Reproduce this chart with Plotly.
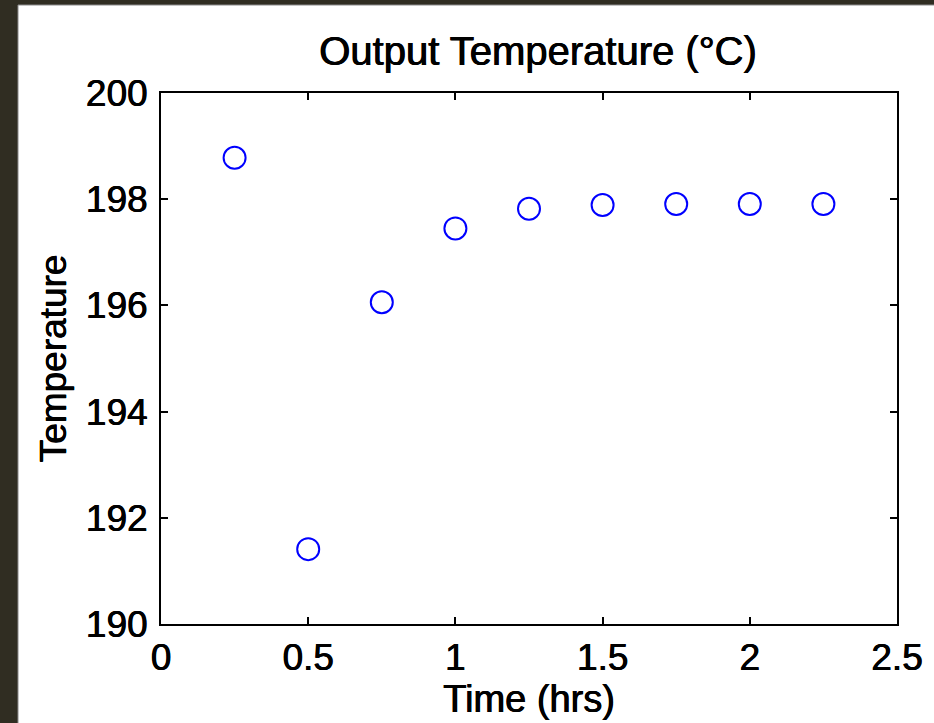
import plotly.graph_objects as go

time_hrs = [0.25, 0.5, 0.75, 1.0, 1.25, 1.5, 1.75, 2.0, 2.25]
temperature = [198.78, 191.41, 196.06, 197.45, 197.82, 197.89, 197.91, 197.91, 197.91]

x_ticks = [0, 0.5, 1, 1.5, 2, 2.5]
x_ticklabels = ["0", "0.5", "1", "1.5", "2", "2.5"]
y_ticks = [190, 192, 194, 196, 198, 200]
y_ticklabels = ["190", "192", "194", "196", "198", "200"]

W, H = 934, 723
L, R, T, B = 161, 37, 93, 99
pw, ph = W - L - R, H - T - B

fig = go.Figure()
fig.add_trace(go.Scatter(
    x=time_hrs, y=temperature, mode="markers",
    marker=dict(symbol="circle-open", size=22, color="#0000ff",
                line=dict(width=2, color="#0000ff")),
    showlegend=False, hoverinfo="skip",
))

font = "Liberation Sans, Arial, sans-serif"
shadow = "0.5px 0px 0px black, -0.3px 0px 0px black"
# white figure panel over dark frame
fig.add_shape(type="rect", xref="paper", yref="paper",
              x0=(18 - L) / pw, x1=(W + 10 - L) / pw,
              y0=(T + ph - H - 10) / ph, y1=(T + ph - 5) / ph,
              fillcolor="white", line=dict(color="#8a8a8a", width=1), layer="below")

fig.update_layout(
    width=W, height=H,
    margin=dict(l=L, r=R, t=T, b=B),
    paper_bgcolor="#302d22", plot_bgcolor="white",
    title=dict(text="Output Temperature (°C)", x=538 / W,
               xanchor="center", y=1 - 51 / H, yanchor="middle",
               font=dict(family=font, size=40, color="black", shadow=shadow)),
    font=dict(family=font, color="black"),
)
fig.update_xaxes(
    range=[0, 2.5], tickvals=x_ticks, ticktext=x_ticklabels,
    showline=True, linewidth=2, linecolor="black", mirror="ticks",
    ticks="inside", ticklen=7, tickwidth=1.5, tickcolor="black",
    showgrid=False, zeroline=False,
    tickfont=dict(family=font, size=37, color="black", shadow=shadow),
    title=dict(text="Time (hrs)", font=dict(family=font, size=38, color="black", shadow=shadow), standoff=0),
)
fig.update_yaxes(
    range=[190, 200], tickvals=y_ticks, ticktext=y_ticklabels,
    showline=True, linewidth=2, linecolor="black", mirror="ticks",
    ticks="inside", ticklen=7, tickwidth=1.5, tickcolor="black",
    showgrid=False, zeroline=False,
    tickfont=dict(family=font, size=37, color="black", shadow=shadow),
    ticklabelstandoff=4,
    title=dict(text="Temperature", font=dict(family=font, size=37, color="black", shadow=shadow), standoff=8),
)
fig.write_html("out.html", config={"displayModeBar": False},
               post_script="document.body.style.margin='0';document.body.style.overflow='hidden';")
